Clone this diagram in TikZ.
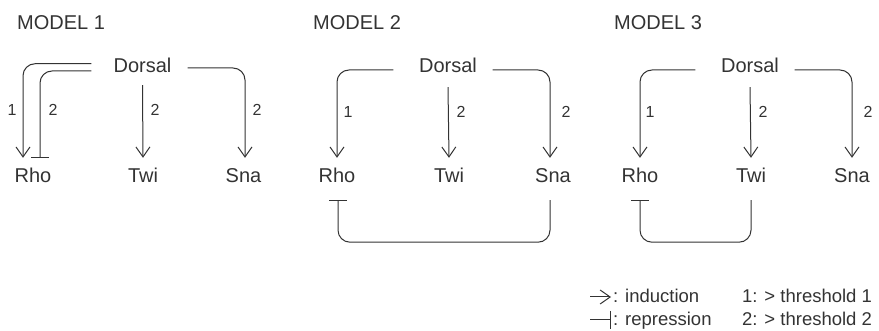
\documentclass[tikz,border=0pt]{standalone}
\usepackage{fontspec}
\setmainfont{Liberation Sans}
\usetikzlibrary{arrows.meta}
\definecolor{ink}{HTML}{333333}
\begin{document}
\begin{tikzpicture}[x=1pt,y=-1pt,
  every node/.style={inner sep=0pt,text=ink},
  gene/.style={anchor=base,font=\fontsize{20}{24}\selectfont,text height=14.5pt,text depth=0pt},
  title/.style={anchor=base west,font=\fontsize{20}{24}\selectfont},
  lab/.style={font=\fontsize{16}{19}\selectfont},
  legtext/.style={anchor=base west,font=\fontsize{18.5}{22}\selectfont},
  link/.style={draw=ink,line width=1pt,rounded corners=12pt},
  ind/.style={link,-{Straight Barb[length=10pt,width=14pt,line width=1pt]}},
  rep/.style={link,-{Bar[width=18pt,line width=1pt]}}]
\useasboundingbox (0,0) rectangle (879,331);

% titles
\node[title] (t1) at (17,30) {MODEL 1};
\node[title] (t2) at (313,30) {MODEL 2};
\node[title] (t3) at (614,30) {MODEL 3};

% ---------- Model 1
\node[gene] (d1) at (142.5,73) {Dorsal};
\node[gene] (rho1) at (33,183) {Rho};
\node[gene] (twi1) at (143,183) {Twi};
\node[gene] (sna1) at (243.5,183) {Sna};
\draw[ind] ([xshift=-22pt,yshift=2pt]d1.west) -| ([xshift=-10pt,yshift=10.5pt]rho1.north);
\draw[rep] ([xshift=-22pt,yshift=-5.25pt]d1.west) -| ([xshift=7pt,yshift=10.5pt]rho1.north);
\draw[ind] ([yshift=-12pt]d1.south) -- ([yshift=10.5pt]twi1.north);
\draw[ind] ([xshift=16pt,yshift=-2.25pt]d1.east) -| ([xshift=1.5pt,yshift=10.5pt]sna1.north);
\node[lab] (l11) at (12,110) {1};
\node[lab] (l12) at (53,110) {2};
\node[lab] (l13) at (155,110) {2};
\node[lab] (l14) at (257,110) {2};

% ---------- Model 2
\node[gene] (d2) at (448,73) {Dorsal};
\node[gene] (rho2) at (337,183) {Rho};
\node[gene] (twi2) at (449,183) {Twi};
\node[gene] (sna2) at (553,183) {Sna};
\draw[ind] ([xshift=-25.5pt,yshift=-4.25pt]d2.west) -| ([yshift=10.5pt]rho2.north);
\draw[ind] ([yshift=-14pt]d2.south) -- ([yshift=10.5pt]twi2.north);
\draw[ind] ([xshift=15.5pt,yshift=-4.25pt]d2.east) -| ([xshift=-3pt,yshift=10.5pt]sna2.north);
\draw[rep] ([xshift=-3pt,yshift=-17pt]sna2.south) -- ++(0,42) -| ([xshift=1pt,yshift=-17pt]rho2.south);
\node[lab] (l21) at (348,112) {1};
\node[lab] (l22) at (461,112) {2};
\node[lab] (l23) at (566,112) {2};

% ---------- Model 3
\node[gene] (d3) at (750,73) {Dorsal};
\node[gene] (rho3) at (640,183) {Rho};
\node[gene] (twi3) at (751,183) {Twi};
\node[gene] (sna3) at (852,183) {Sna};
\draw[ind] ([xshift=-25.5pt,yshift=-4.25pt]d3.west) -| ([yshift=10.5pt]rho3.north);
\draw[ind] ([yshift=-14pt]d3.south) -- ([yshift=10.5pt]twi3.north);
\draw[ind] ([xshift=15.5pt,yshift=-4.25pt]d3.east) -| ([yshift=10.5pt]sna3.north);
\draw[rep] ([yshift=-17pt]twi3.south) -- ++(0,42) -| ([yshift=-17pt]rho3.south);
\node[lab] (l31) at (650,112) {1};
\node[lab] (l32) at (763,112) {2};
\node[lab] (l33) at (868,112) {2};

% ---------- Legend
\coordinate (ia) at (590,297);
\coordinate (ib) at (611,297);
\coordinate (ra) at (590,320);
\coordinate (rb) at (611,320);
\draw[ind] (ia) -- (ib);
\draw[rep] (ra) -- (rb);
\node[legtext] (lind) at (613,303) {: induction};
\node[legtext] (lrep) at (613,326) {: repression};
\node[legtext] (lt1) at (742,303) {1: > threshold 1};
\node[legtext] (lt2) at (742,326) {2: > threshold 2};
\end{tikzpicture}
\end{document}
